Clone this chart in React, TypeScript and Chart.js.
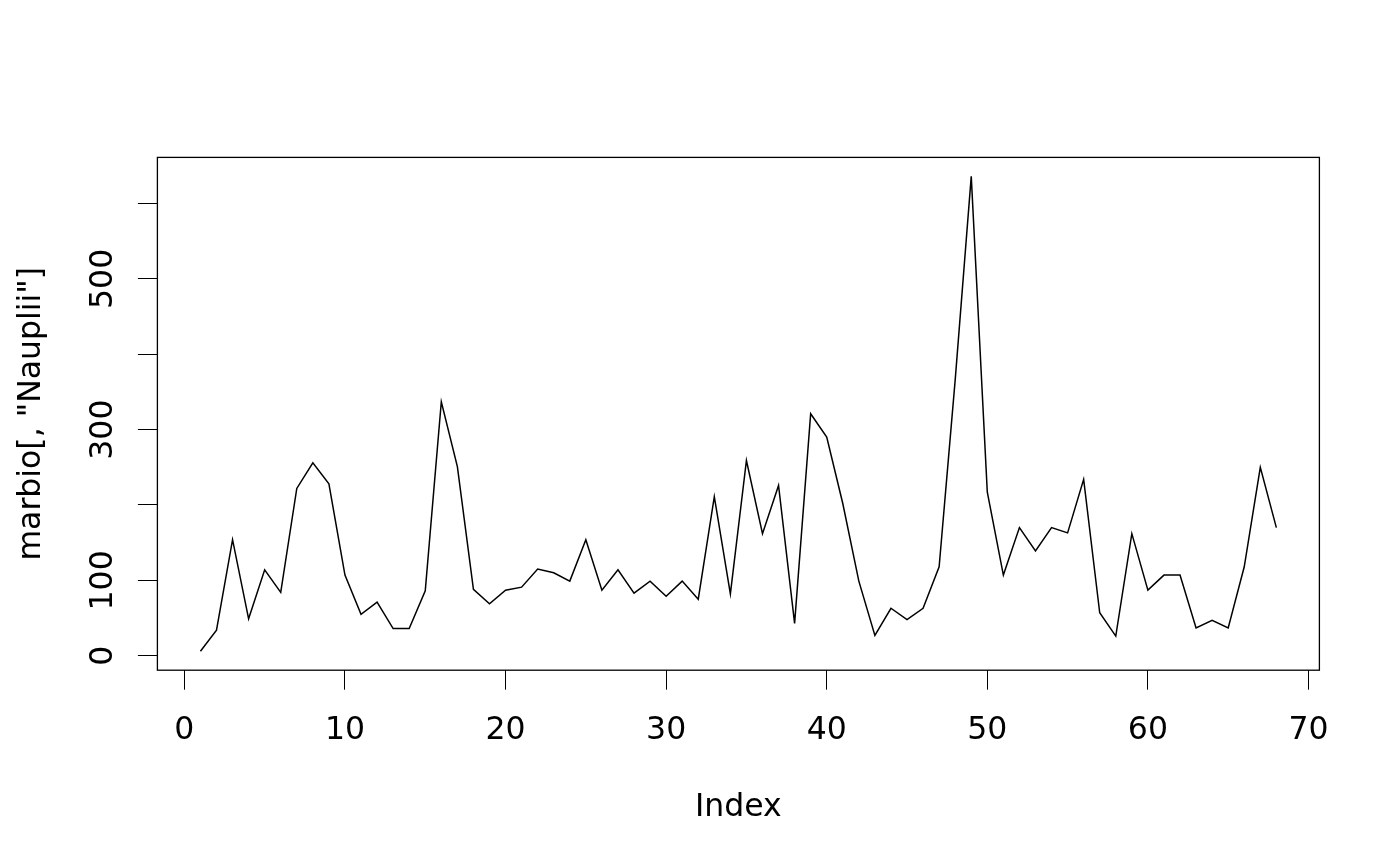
import React, { useEffect, useRef } from "react";
import { Chart, registerables } from "chart.js";

Chart.register(...registerables);

// marbio[, "Nauplii"] values, in index order 1..68
const nauplii = [
  6, 34, 154, 49, 114, 84, 222, 256, 228, 107,
  55, 71, 36, 36, 86, 337, 251, 88, 69, 87,
  91, 115, 110, 99, 154, 87, 114, 83, 99, 79,
  99, 75, 211, 82, 259, 162, 226, 43, 321, 290,
  202, 99, 27, 63, 48, 63, 118, 366, 636, 217,
  107, 170, 139, 170, 163, 234, 57, 26, 162, 87,
  107, 107, 37, 47, 37, 118, 250, 170,
];

const xTicks = [0, 10, 20, 30, 40, 50, 60, 70];
const xTickLabels = ["0", "10", "20", "30", "40", "50", "60", "70"];
const yTicks = [0, 100, 200, 300, 400, 500, 600];
const yTickLabels = ["0", "100", "", "300", "", "500", ""];
const xTitle = "Index";
const yTitle = 'marbio[, "Nauplii"]';

const FONT = '31.5px "DejaVu Sans"';

export default function App() {
  const ref = useRef<HTMLCanvasElement>(null);

  useEffect(() => {
    if (!ref.current) return;
    const n = nauplii.length;
    const xMin = 1;
    const xMax = n;
    const xPad = (xMax - xMin) * 0.04;
    const yMin = Math.min(...nauplii);
    const yMax = Math.max(...nauplii);
    const yPad = (yMax - yMin) * 0.04;

    const textPlugin = {
      id: "rtext",
      afterDraw(chart: any) {
        const { ctx, chartArea: a, scales } = chart;
        const x = scales.x;
        const y = scales.y;
        ctx.save();
        ctx.strokeStyle = "#000";
        ctx.lineWidth = 1.3;
        ctx.strokeRect(a.left, a.top, a.right - a.left, a.bottom - a.top);
        ctx.fillStyle = "#000";
        ctx.font = FONT;
        ctx.textAlign = "center";
        ctx.textBaseline = "alphabetic";
        xTicks.forEach((t, i) => {
          ctx.fillText(xTickLabels[i], x.getPixelForValue(t), a.bottom + 68.5);
        });
        ctx.fillText(xTitle, (a.left + a.right) / 2, a.bottom + 145.5);
        yTicks.forEach((t, i) => {
          const lbl = yTickLabels[i];
          if (!lbl) return;
          ctx.save();
          ctx.translate(a.left - 45.7, y.getPixelForValue(t));
          ctx.rotate(-Math.PI / 2);
          ctx.fillText(lbl, 0, 0);
          ctx.restore();
        });
        ctx.save();
        ctx.translate(a.left - 117.4, (a.top + a.bottom) / 2);
        ctx.rotate(-Math.PI / 2);
        ctx.fillText(yTitle, 0, 0);
        ctx.restore();
        ctx.restore();
      },
    };

    const chart = new Chart(ref.current, {
      type: "line",
      data: {
        datasets: [
          {
            data: nauplii.map((v, i) => ({ x: i + 1, y: v })),
            borderColor: "#000",
            borderWidth: 1.5,
            pointRadius: 0,
            tension: 0,
            fill: false,
          },
        ],
      },
      options: {
        responsive: false,
        animation: false,
        layout: {
          padding: { left: 0, top: 157.4, right: 80.6, bottom: 0 },
          autoPadding: false,
        } as any,
        plugins: {
          legend: { display: false },
          tooltip: { enabled: false },
        },
        scales: {
          x: {
            type: "linear",
            min: xMin - xPad,
            max: xMax + xPad,
            afterBuildTicks: (s: any) => {
              s.ticks = xTicks.map((v) => ({ value: v }));
            },
            afterFit: (s: any) => {
              s.height = 195.8;
            },
            ticks: { display: false },
            grid: {
              drawOnChartArea: false,
              drawTicks: true,
              tickLength: 19.5,
              tickColor: "#000",
              tickWidth: 1,
            },
            border: { display: false },
          },
          y: {
            type: "linear",
            min: yMin - yPad,
            max: yMax + yPad,
            afterBuildTicks: (s: any) => {
              s.ticks = yTicks.map((v) => ({ value: v }));
            },
            afterFit: (s: any) => {
              s.width = 157.4;
            },
            ticks: { display: false },
            grid: {
              drawOnChartArea: false,
              drawTicks: true,
              tickLength: 19.5,
              tickColor: "#000",
              tickWidth: 1,
            },
            border: { display: false },
          },
        },
      },
      plugins: [textPlugin],
    });

    return () => chart.destroy();
  }, []);

  return (
    <div
      style={{
        position: "absolute",
        left: 0,
        top: 0,
        width: 1400,
        height: 866,
        background: "#fff",
      }}
    >
      <canvas ref={ref} width={1400} height={866} style={{ display: "block" }} />
    </div>
  );
}
